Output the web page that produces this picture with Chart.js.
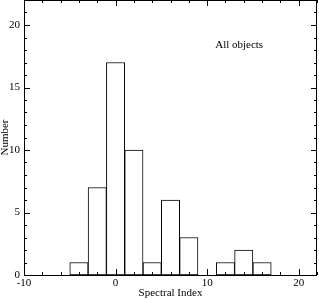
<!DOCTYPE html>
<html>
<head>
<meta charset="utf-8">
<script src="https://cdn.jsdelivr.net/npm/chart.js@4"></script>
<style>
  html, body { margin: 0; padding: 0; background: #fff; }
  #wrap { width: 319px; height: 300px; }
</style>
</head>
<body>
<div id="wrap"><canvas id="hist"></canvas></div>
<script>
// bin centres (spectral index) and counts
const binCentres = [-4, -2, 0, 2, 4, 6, 8, 12, 14, 16];
const counts = [1, 7, 17, 10, 1, 6, 3, 1, 2, 1];

const xTicks = [-10, 0, 10, 20];
const yTicks = [0, 5, 10, 15, 20];

const serif = "'Liberation Serif', 'DejaVu Serif', serif";

// inward ticks on all four sides + frame + label
const frame = {
  id: "frame",
  afterDraw(chart) {
    const c = chart.ctx;
    const a = chart.chartArea;
    const xs = chart.scales.x;
    const ys = chart.scales.y;
    c.save();
    c.strokeStyle = "#000";
    c.lineWidth = 1;
    c.strokeRect(Math.round(a.left) + 0.5, Math.round(a.top) + 0.5,
      Math.round(a.right - a.left) - 1, Math.round(a.bottom - a.top));
    c.beginPath();
    for (let v = -10; v <= 22; v += 2) {
      const px = Math.round(xs.getPixelForValue(v)) + 0.5;
      const len = v % 10 === 0 ? 6 : 3;
      c.moveTo(px, a.bottom); c.lineTo(px, a.bottom - len);
      c.moveTo(px, a.top); c.lineTo(px, a.top + len);
    }
    for (let v = 0; v <= 22; v += 1) {
      const py = Math.round(ys.getPixelForValue(v)) + 0.5;
      const len = v % 5 === 0 ? 6 : 3;
      c.moveTo(a.left, py); c.lineTo(a.left + len, py);
      c.moveTo(a.right, py); c.lineTo(a.right - len, py);
    }
    c.stroke();
    c.fillStyle = "#000";
    c.font = "11px " + serif;
    c.textAlign = "center";
    c.textBaseline = "middle";
    c.fillText("All objects", xs.getPixelForValue(13.5), ys.getPixelForValue(18.4));
    c.restore();
  }
};

const noPad = s => {
  s.paddingTop = 0; s.paddingBottom = 0; s.paddingLeft = 0; s.paddingRight = 0;
};

new Chart(document.getElementById("hist"), {
  type: "bar",
  data: {
    datasets: [{
      data: binCentres.map((x, i) => ({ x: x, y: counts[i] })),
      backgroundColor: "#fff",
      borderColor: "#000",
      borderWidth: 1,
      borderSkipped: false,
      barPercentage: 1,
      categoryPercentage: 1
    }]
  },
  options: {
    responsive: true,
    maintainAspectRatio: false,
    animation: false,
    layout: { padding: { top: 0, right: 2, left: 0, bottom: 0 } },
    plugins: { legend: { display: false }, tooltip: { enabled: false } },
    scales: {
      x: {
        type: "linear",
        offset: false,
        min: -10,
        max: 22,
        grid: { display: false, drawTicks: false },
        border: { display: false },
        afterBuildTicks: s => { s.ticks = xTicks.map(v => ({ value: v })); },
        ticks: { color: "#000", font: { family: serif, size: 11 }, padding: 2, maxRotation: 0 },
        title: { display: true, text: "Spectral Index", color: "#000", font: { family: serif, size: 11 }, padding: 0 },
        afterFit: s => { s.height = 25; noPad(s); }
      },
      y: {
        min: 0,
        max: 22,
        grid: { display: false, drawTicks: false },
        border: { display: false },
        afterBuildTicks: s => { s.ticks = yTicks.map(v => ({ value: v })); },
        ticks: { color: "#000", font: { family: serif, size: 11 }, padding: 4 },
        title: { display: true, text: "Number", color: "#000", font: { family: serif, size: 11 }, padding: { top: -1, bottom: 0 } },
        afterFit: s => { s.width = 24; noPad(s); }
      }
    }
  },
  plugins: [frame]
});
</script>
</body>
</html>
